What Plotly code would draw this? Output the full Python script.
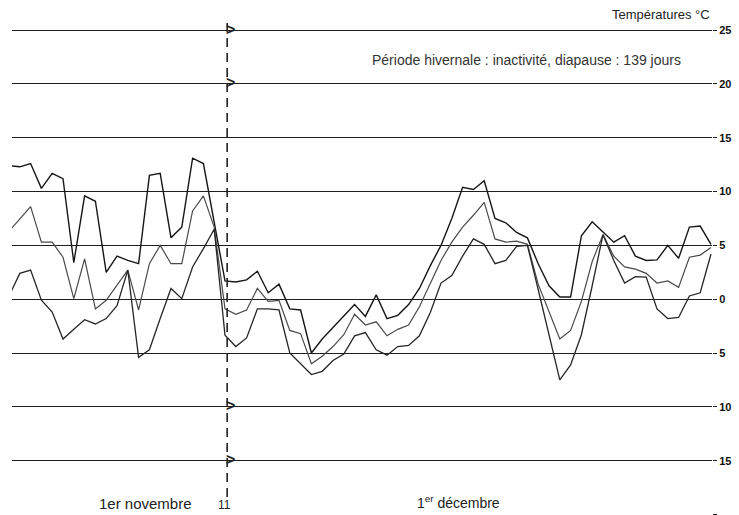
import plotly.graph_objects as go

# Daily temperatures (°C), from late October to end of December
t_max = [12.4, 12.3, 12.6, 10.3, 11.7, 11.2, 3.4, 9.6, 9.1, 2.5,
         4.0, 3.6, 3.3, 11.5, 11.7, 5.7, 6.7, 13.1, 12.6, 7.3,
         1.7, 1.6, 1.8, 2.6, 0.6, 1.4, -0.9, -1.0, -5.0, -3.7,
         -2.6, -1.5, -0.5, -1.6, 0.4, -1.8, -1.5, -0.5, 1.0, 3.1,
         5.0, 7.5, 10.4, 10.2, 11.0, 7.5, 7.1, 6.2, 5.7, 3.3,
         1.25, 0.2, 0.2, 5.9, 7.2, 6.25, 5.3, 5.9, 4.0, 3.6,
         3.65, 5.0, 3.8, 6.7, 6.8, 5.1]
t_mean = [6.3, 7.5, 8.6, 5.3, 5.3, 3.9, 0.05, 3.75, -0.9, -0.1,
          1.3, 2.7, -1.0, 3.3, 5.0, 3.3, 3.3, 8.2, 9.6, 6.7,
          -0.9, -1.4, -1.0, 1.0, -0.2, -0.1, -2.9, -3.2, -6.0, -5.3,
          -4.4, -3.3, -1.4, -2.4, -2.1, -3.4, -2.8, -2.4, -0.7, 1.4,
          3.6, 5.3, 6.7, 7.8, 9.0, 5.6, 5.3, 5.4, 5.1, 1.4,
          -1.2, -3.7, -2.9, -0.2, 3.5, 6.0, 4.0, 3.0, 2.8, 2.4,
          1.5, 1.7, 1.1, 3.9, 4.1, 4.8]
t_min = [0.3, 2.4, 2.7, -0.1, -1.2, -3.7, -2.8, -1.9, -2.3, -1.8,
         -0.6, 2.7, -5.4, -4.7, -1.8, 1.0, 0.05, 3.0, 4.7, 6.5,
         -3.35, -4.4, -3.6, -0.9, -0.9, -1.0, -5.0, -6.0, -7.0, -6.7,
         -5.7, -5.1, -3.4, -3.1, -4.7, -5.2, -4.4, -4.3, -3.4, -1.25,
         1.5, 2.2, 4.0, 5.6, 5.1, 3.3, 3.6, 4.9, 5.0, 0.9,
         -3.4, -7.5, -6.1, -3.3, 1.25, 6.0, 3.6, 1.5, 2.1, 2.05,
         -0.9, -1.8, -1.7, 0.3, 0.6, 4.2]
days = list(range(len(t_max)))

tick_vals = [25, 20, 15, 10, 5, 0, -5, -10, -15, -20]
tick_text = ["25", "20", "15", "10", "5", "0", "5", "10", "15", "20"]
arrow_levels = [25, 20, -10, -15]
day_nov11 = 20.2

W, H = 739, 515
ML, MR = 12, 27
PW = W - ML - MR


def px_to_paper_x(px):
    return (px - ML) / PW


def py_to_paper_y(py):
    return 1 - py / H


fig = go.Figure()
for vals, col, w in [(t_max, "#161616", 1.4), (t_mean, "#4a4a4a", 1.2), (t_min, "#262626", 1.3)]:
    fig.add_trace(go.Scatter(x=days, y=vals, mode="lines",
                             line=dict(color=col, width=w), showlegend=False,
                             hoverinfo="skip"))

# dashed vertical line: 11 novembre
fig.add_shape(type="line", xref="x", yref="paper", x0=day_nov11, x1=day_nov11,
              y0=py_to_paper_y(497), y1=py_to_paper_y(20),
              line=dict(color="#222", width=1.6, dash="9px,6px"))

annotations = []
for lv in arrow_levels:
    annotations.append(dict(x=day_nov11, y=lv, xref="x", yref="y", text="<b>></b>",
                            showarrow=False, xanchor="left", yanchor="middle",
                            xshift=-3, yshift=1,
                            font=dict(family="Liberation Sans", size=16, color="#222")))

annotations += [
    dict(x=1.0, y=py_to_paper_y(14), xref="paper", yref="paper",
         text="Températures °C", showarrow=False, xanchor="right", yanchor="middle",
         font=dict(family="Liberation Sans", size=13, color="#222")),
    dict(x=px_to_paper_x(370), y=py_to_paper_y(60), xref="paper", yref="paper",
         text="Période hivernale : inactivité, diapause : 139 jours", showarrow=False,
         xanchor="left", yanchor="middle",
         font=dict(family="Liberation Sans", size=14, color="#333")),
    dict(x=px_to_paper_x(97), y=py_to_paper_y(503), xref="paper", yref="paper",
         text="1er novembre", showarrow=False, xanchor="left", yanchor="middle",
         font=dict(family="Liberation Sans", size=15, color="#222")),
    dict(x=px_to_paper_x(224), y=py_to_paper_y(505), xref="paper", yref="paper",
         text="11", showarrow=False, xanchor="center", yanchor="middle",
         font=dict(family="Liberation Sans", size=12, color="#222")),
    dict(x=px_to_paper_x(415), y=py_to_paper_y(502), xref="paper", yref="paper",
         text="1<sup>er</sup> décembre", showarrow=False, xanchor="left", yanchor="middle",
         font=dict(family="Liberation Sans", size=14, color="#222")),
]

fig.update_layout(
    width=W, height=H,
    margin=dict(l=ML, r=MR, t=0, b=0, pad=0),
    paper_bgcolor="white", plot_bgcolor="white",
    annotations=annotations,
    xaxis=dict(range=[(ML - 9) / 10.8, (W - MR - 9) / 10.8], showgrid=False,
               zeroline=False, showline=False, showticklabels=False, ticks=""),
    yaxis=dict(range=[-20.05, 27.8], side="right", tickvals=tick_vals, ticktext=tick_text,
               showgrid=True, gridcolor="#1e1e1e", gridwidth=1.3,
               zeroline=False, showline=False, ticks="outside", ticklen=4,
               tickwidth=1.3, tickcolor="#1e1e1e",
               tickfont=dict(family="Liberation Sans Narrow, Arial Narrow, Liberation Sans",
                             size=11, color="#111", weight="bold")),
)

fig.write_html("out.html", config={"displayModeBar": False},
               post_script="document.body.style.margin='0';document.body.style.overflow='hidden';")
